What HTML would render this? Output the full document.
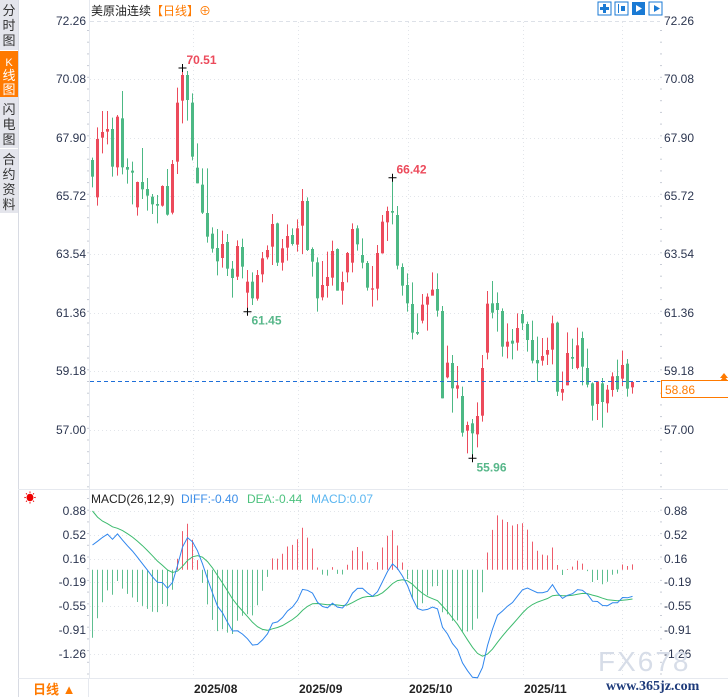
<!DOCTYPE html>
<html><head><meta charset="utf-8"><style>
body{margin:0;width:728px;height:697px;overflow:hidden;background:#fff;font-family:"Liberation Sans","Noto Sans CJK SC",sans-serif}
svg{position:absolute;left:0;top:0}
</style></head><body>
<svg id="s" width="728" height="697" xmlns="http://www.w3.org/2000/svg" font-family="Liberation Sans, Noto Sans CJK SC, sans-serif">
<rect x="0" y="0" width="18" height="213" fill="#e4e5ec"/>
<line x1="18.5" y1="0" x2="18.5" y2="697" stroke="#d8dbe3"/>
<line x1="0" y1="50.5" x2="18" y2="50.5" stroke="#fff"/>
<rect x="0" y="51" width="18" height="46" fill="#ff7a00"/>
<line x1="0" y1="148.5" x2="18" y2="148.5" stroke="#fff"/>
<g font-size="13" fill="#333" text-anchor="middle">
<text x="9" y="15">分</text><text x="9" y="30">时</text><text x="9" y="45">图</text>
<text x="9" y="66" fill="#fff" font-size="11">K</text><text x="9" y="80" fill="#fff">线</text><text x="9" y="94" fill="#fff">图</text>
<text x="9" y="114">闪</text><text x="9" y="129">电</text><text x="9" y="144">图</text>
<text x="9" y="164">合</text><text x="9" y="179">约</text><text x="9" y="194">资</text><text x="9" y="209">料</text>
</g>
<line x1="89.5" y1="0" x2="89.5" y2="678" stroke="#e6e9ef"/>
<line x1="18" y1="489.5" x2="728" y2="489.5" stroke="#e6e9ef"/>
<line x1="18" y1="678.5" x2="728" y2="678.5" stroke="#e6e9ef"/>
<line x1="88.5" y1="678" x2="88.5" y2="697" stroke="#e6e9ef"/>
<line x1="90" y1="21.5" x2="660" y2="21.5" stroke="#dde1e8" stroke-dasharray="4,3"/>
<g id="grid" stroke="#e2e5ea" stroke-dasharray="1,3"></g>
<g id="ax" font-size="12" fill="#2c3650"></g>
<g id="c"></g>
<line x1="90" y1="381.5" x2="660" y2="381.5" stroke="#1e6fd9" stroke-dasharray="4,3"/>
<rect x="661.5" y="380.5" width="67" height="17" fill="#fff" stroke="#ff7a00"/>
<text x="665" y="394" font-size="12" fill="#ff7a00">58.86</text>
<path d="M720 381 L724 376 L728 381Z M720 378 L724 373 L728 378Z" fill="#ff7a00"/>
<text x="91" y="15" font-size="12" fill="#222">美原油连续</text>
<text x="151" y="15" font-size="12" fill="#ff7a00">【日线】⊕</text>
<g fill="#1a7ad4">
<rect x="598" y="2" width="13" height="13" fill="none" stroke="#1a7ad4"/><rect x="603" y="4" width="3" height="9"/><rect x="600" y="7" width="9" height="3"/>
<rect x="615" y="2" width="13" height="13" fill="none" stroke="#1a7ad4"/><rect x="618" y="4" width="1" height="9"/><rect x="621" y="6" width="4" height="5"/>
<rect x="632" y="2" width="13" height="13"/><path d="M636 5 L642 8.5 L636 12Z" fill="#fff"/>
<rect x="649" y="2" width="13" height="13" fill="none" stroke="#1a7ad4"/><path d="M654 5 L660 8.5 L654 12Z"/>
</g>
<g id="m"></g>
<text x="24" y="502" font-size="12" fill="#e00">☀</text>
<text x="91" y="503" font-size="12" fill="#222">MACD(26,12,9)</text>
<text x="181" y="503" font-size="12" fill="#3d8ee8">DIFF:-0.40</text>
<text x="247" y="503" font-size="12" fill="#4cc27e">DEA:-0.44</text>
<text x="311" y="503" font-size="12" fill="#5bb6f0">MACD:0.07</text>
<text x="33" y="694" font-size="13" fill="#ff7a00" font-weight="bold">日线 ▲</text>
<g font-size="12" font-weight="bold" fill="#222">
<text x="194" y="693">2025/08</text><text x="299" y="693">2025/09</text><text x="409" y="693">2025/10</text><text x="524" y="693">2025/11</text>
</g>
<text x="598" y="671" font-size="28" fill="#d7dde8" letter-spacing="2">FX678</text>
<text x="606" y="690" font-size="14" font-weight="bold" fill="#1d3a7a" font-family="Liberation Serif, serif">www.365jz.com</text>
</svg>
<script>
var NS="http://www.w3.org/2000/svg";
function el(p,t,a,txt){var e=document.createElementNS(NS,t);for(var k in a)e.setAttribute(k,a[k]);if(txt!==undefined)e.textContent=txt;p.appendChild(e);return e;}
var grid=document.getElementById('grid'),ax=document.getElementById('ax'),cg=document.getElementById('c'),mg=document.getElementById('m');
var pl=[["72.26",21],["70.08",79],["67.90",138],["65.72",196],["63.54",254],["61.36",313],["59.18",371],["57.00",430]];
pl.forEach(function(p,i){if(i>0)el(grid,'line',{x1:90,y1:p[1]+.5,x2:660,y2:p[1]+.5});
el(ax,'text',{x:86,y:p[1]+4,'text-anchor':'end'},p[0]);el(ax,'text',{x:664,y:p[1]+4},p[0]);});
var ml=[["0.88",511],["0.52",535],["0.16",559],["-0.19",582],["-0.55",606],["-0.91",630],["-1.26",654]];
ml.forEach(function(p){el(grid,'line',{x1:90,y1:p[1]+.5,x2:660,y2:p[1]+.5});
el(ax,'text',{x:86,y:p[1]+4,'text-anchor':'end'},p[0]);el(ax,'text',{x:664,y:p[1]+4},p[0]);});
[193,298,408,523,622].forEach(function(x){el(grid,'line',{x1:x+.5,y1:22,x2:x+.5,y2:678});});
for(var y=30;y<678;y+=11.7){el(ax,'rect',{x:87,y:y,width:2,height:1,fill:'#c8ccd6'});el(ax,'rect',{x:660,y:y,width:2,height:1,fill:'#c8ccd6'});}
var z5=[["g",323,330,380,412],["r",232,267,442,467],["r",183,246,263,310],["r",183,237,245,283],["g",203,237,350,380],["r",195,200,352,377],["g",123,205,352,373],["g",325,351,359,401],["g",335,362,368,463],["r",395,396,472,497],["g",294,396,418,447],["g",384,417,437,482],["g",432,440,463,492],["g",435,462,467,520],["r",406,408,467,470],["g",357,408,494,497],["r",330,342,488,493],["r",113,158,335,372],["r",55,75,152,220],["g",63,75,150,212],["g",130,158,320,331],["g",280,353,400,400],["g",355,404,488,492],["g",355,489,560,578],["g",532,551,596,608],["g",537,594,634,676],["r",542,582,624,653],["g",552,576,656,678],["g",633,656,684,743],["r",571,588,680,690],["g",566,591,650,685],["r",660,695,728,785],["g",667,695,745,765],["r",660,675,746,752],["r",606,625,673,697],["r",586,600,622,628]];
var z6=[["r",162,192,260,315],["g",188,190,308,318],["r",237,265,308,332],["r",193,228,263,302],["g",205,225,252,257],["r",178,205,254,275],["r",87,123,197,282],["g",112,123,270,273],["g",262,267,305,350],["g",292,307,415,455],["r",303,375,412,421],["r",275,351,378,413],["r",242,273,353,377],["g",265,267,392,392],["r",335,366,392,434],["r",276,279,337,367],["r",190,207,308,337],["g",196,205,253,272],["g",235,285,308,325],["g",303,309,383,392],["r",318,385,389,440],["r",255,279,386,421],["r",165,185,280,281],["r",140,153,187,243],["g",53,153,158,193],["g",138,165,317,328],["g",310,321,377,407],["g",340,375,430,455],["g",367,432,518,538],["g",460,516,521,525],["r",402,434,482,490],["r",400,410,434,512],["r",337,389,407,406],["g",340,387,452,470],["g",438,453,715,715],["r",557,608,652,655]];
var z7=[["g",255,279,355,428],["r",288,346,356,385],["g",350,378,488,500],["r",455,465,482,550],["g",447,460,490,565],["r",397,438,493,532],["r",255,294,437,455],["r",63,101,248,268],["g",33,100,128,145],["g",67,99,120,185],["g",115,123,230,260],["r",160,215,230,265],["g",177,212,221,268],["r",130,174,218,242],["g",120,132,160,180],["g",155,162,210,245],["g",152,210,272,280],["g",200,270,280,335],["r",204,258,272,287],["r",203,240,254,285],["r",137,160,239,283],["g",155,158,365,378],["r",305,357,368,392],["r",187,249,346,346],["g",206,261,266,297],["r",173,226,294,298],["g",185,204,290,346],["g",236,294,344,352],["g",337,340,407,452],["r",333,334,402,450],["g",324,340,396,473],["r",345,359,400,428],["r",307,319,360,380],["g",269,318,358,366],["r",242,285,326,348],["g",267,281,356,380],["r",333,336,352,371]];
var C=[];function add(a,o){a.forEach(function(d){C.push([d[0],o+d[1]/3,o+d[2]/3,o+d[3]/3,o+d[4]/3]);});}
add(z5,50);add(z6,160);add(z7,270);
var RED="#ec4a5b",GRN="#4cb884";
C.forEach(function(d,i){var x=92+i*5,col=d[0]=="r"?RED:GRN;
el(cg,'line',{x1:x+.5,y1:d[1],x2:x+.5,y2:d[4],stroke:col});
el(cg,'rect',{x:x-1,y:d[2],width:3,height:Math.max(1,d[3]-d[2]),fill:col});});
function mark(i,y,txt,col,dy){var x=92+i*5+.5;el(cg,'path',{d:'M'+(x-4)+' '+y+'H'+(x+4)+'M'+x+' '+(y-4)+'V'+(y+4),stroke:'#000'});
el(cg,'text',{x:x+4,y:y+dy,'font-size':12,'font-weight':'bold',fill:col},txt);}
mark(18,68,"70.51",RED,-4);mark(31,311.7,"61.45","#58b78a",13);mark(60,177.7,"66.42",RED,-4);mark(76,458.3,"55.96","#58b78a",13);
var cl=C.map(function(d){var y=d[0]=="r"?d[2]:d[3];return 72.26-(y-21)/26.8;});
var e12=cl[0]+0.37,e26=cl[0],dea=0.88,D=[],E=[],H=[];
cl.forEach(function(c,i){if(i>0){e12=e12+(c-e12)*2/13;e26=e26+(c-e26)*2/27;}var df=e12-e26;if(i>0)dea=dea+(df-dea)*0.2;D.push(df);E.push(dea);H.push(2*(df-dea));});
var Z=569.7,K=66.7;
H.forEach(function(h,i){var x=92+i*5+.5;el(mg,'line',{x1:x,y1:Z,x2:x,y2:Z-h*K,stroke:h>=0?RED:GRN,'stroke-width':0.9});});
function pl2(a,col){var s='';a.forEach(function(v,i){s+=(i?'L':'M')+(92+i*5+.5)+' '+(Z-v*K).toFixed(1);});el(mg,'path',{d:s,fill:'none',stroke:col,'stroke-width':1});}
pl2(E,"#3dbb6e");pl2(D,"#2f86ee");
</script>
</body></html>
